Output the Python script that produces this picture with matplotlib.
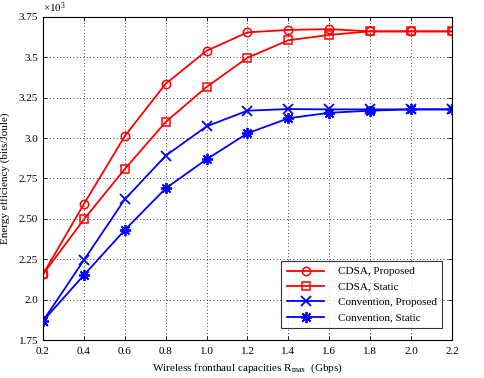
import matplotlib
matplotlib.use("Agg")
import matplotlib.pyplot as plt
from matplotlib.ticker import FixedLocator, FixedFormatter

plt.rcParams['font.family'] = ['Liberation Serif', 'DejaVu Serif']
plt.rcParams['mathtext.fontset'] = 'custom'
plt.rcParams['mathtext.rm'] = 'Liberation Serif'
plt.rcParams['mathtext.it'] = 'Liberation Serif:italic'

x = [0.2, 0.4, 0.6, 0.8, 1.0, 1.2, 1.4, 1.6, 1.8, 2.0, 2.2]
cdsa_proposed = [2.157, 2.592, 3.013, 3.337, 3.541, 3.655, 3.670, 3.675, 3.661, 3.661, 3.661]
cdsa_static = [2.157, 2.497, 2.809, 3.100, 3.317, 3.498, 3.606, 3.639, 3.661, 3.661, 3.661]
conv_proposed = [1.868, 2.245, 2.621, 2.891, 3.073, 3.170, 3.180, 3.178, 3.178, 3.178, 3.178]
conv_static = [1.868, 2.152, 2.431, 2.689, 2.869, 3.030, 3.123, 3.157, 3.170, 3.178, 3.178]

yticks = [1.75, 2.0, 2.25, 2.5, 2.75, 3.0, 3.25, 3.5, 3.75]
ytick_labels = ['1.75', '2.0', '2.25', '2.50', '2.75', '3.0', '3.25', '3.5', '3.75']
xticks = [0.2, 0.4, 0.6, 0.8, 1.0, 1.2, 1.4, 1.6, 1.8, 2.0, 2.2]
xtick_labels = ['0.2', '0.4', '0.6', '0.8', '1.0', '1.2', '1.4', '1.6', '1.8', '2.0', '2.2']

fig = plt.figure(figsize=(4.85, 3.78), dpi=100)
ax = fig.add_axes([43/485, 38/378, 409/485, 323/378])

lw = 1.3
ax.plot(x, cdsa_proposed, color='#ff0000', lw=lw, marker='o', ms=6, mfc='none', mew=1.1, label='CDSA, Proposed')
ax.plot(x, cdsa_static, color='#ff0000', lw=lw, marker='s', ms=6, mfc='none', mew=1.1, label='CDSA, Static')
ax.plot(x, conv_proposed, color='#0000ff', lw=lw, marker='x', ms=7, mew=1.3, label='Convention, Proposed')
ax.plot(x, conv_static, color='#0000ff', lw=lw, marker=(8, 2, 0), ms=8, mew=1.3, label='Convention, Static')

ax.set_xlim(0.2, 2.2)
ax.set_ylim(1.75, 3.75)
ax.xaxis.set_major_locator(FixedLocator(xticks))
ax.xaxis.set_major_formatter(FixedFormatter(xtick_labels))
ax.yaxis.set_major_locator(FixedLocator(yticks))
ax.yaxis.set_major_formatter(FixedFormatter(ytick_labels))
ax.tick_params(direction='in', labelsize=8, top=True, right=True, length=3, width=0.6)
ax.tick_params(axis='x', pad=5)
ax.grid(True, color='black', ls=(0, (1, 3)), lw=0.6)
for s in ax.spines.values():
    s.set_linewidth(0.8)

ax.text(0.0, 1.005, r'$\times10^{3}$', transform=ax.transAxes, fontsize=8, ha='left', va='bottom')

ax.set_xlabel(r'Wireless fronthaul capacities R$_{\mathrm{max}}$  (Gbps)', fontsize=8, labelpad=4)
ax.set_ylabel('Energy efficiency (bits/Joule)', fontsize=8, labelpad=6)

leg = ax.legend(loc='lower right', fontsize=8, frameon=True, fancybox=False, edgecolor='black',
                handlelength=3.4, borderpad=0.5, labelspacing=0.5, handletextpad=1.2,
                bbox_to_anchor=(0.99, 0.02))
leg.get_frame().set_linewidth(0.8)

fig.savefig('out.png', dpi=100)
